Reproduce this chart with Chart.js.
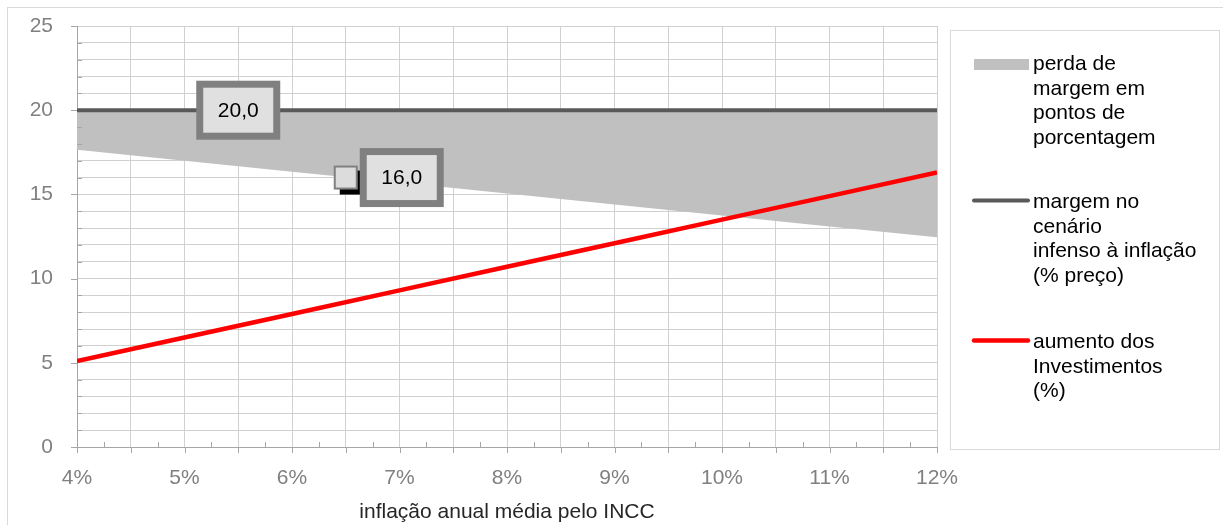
<!DOCTYPE html>
<html lang="pt-BR">
<head>
<meta charset="utf-8">
<script src="https://cdn.jsdelivr.net/npm/chart.js@4.4.1/dist/chart.umd.min.js"></script>
<style>
html,body{margin:0;padding:0;background:#fff;}
canvas{display:block;}
</style>
</head>
<body>
<canvas id="grafico" width="1223" height="525"></canvas>
<script>
// inflação anual média pelo INCC (%)
const inflacao = [4, 5, 6, 7, 8, 9, 10, 11, 12];
// margem no cenário infenso à inflação (% do preço)
const margemBase = [20, 20, 20, 20, 20, 20, 20, 20, 20];
// margem resultante com inflação; a faixa entre ela e a margem base é a perda
const margemComInflacao = [17.65, 17.0, 16.35, 15.7, 15.05, 14.4, 13.75, 13.1, 12.45];
// aumento dos investimentos (%)
const aumentoInvestimentos = [5.1, 6.5, 7.9, 9.3, 10.7, 12.1, 13.5, 14.9, 16.3];
// rótulos de valor
const rotuloX = [5.5, 6.5];
const rotuloY = [20.0, 16.0];
// marcas dos eixos
const ticksX = [4, 5, 6, 7, 8, 9, 10, 11, 12];
const ticksY = [0, 5, 10, 15, 20, 25];
// textos da legenda
const legendaPerda = ['perda de', 'margem em', 'pontos de', 'porcentagem'];
const legendaMargem = ['margem no', 'cenário', 'infenso à inflação', '(% preço)'];
const legendaInvest = ['aumento dos', 'Investimentos', '(%)'];
const tituloX = 'inflação anual média pelo INCC';

const FONTE = "'Liberation Sans', Arial, sans-serif";
const COR_EIXO = '#a6a6a6';
const COR_GRADE = '#d0d0d0';
const COR_FAIXA = '#c0c0c0';
const COR_MARGEM = '#595959';
const COR_INVEST = '#ff0000';

Chart.defaults.font.family = FONTE;

const pares = (ys) => inflacao.map((x, i) => ({ x, y: ys[i] }));
const fmt = (v) => v.toFixed(1).replace('.', ',');

// moldura externa, marcas dos eixos, rótulos e legenda
const extras = {
  id: 'extras',
  beforeDraw(chart) {
    const ctx = chart.ctx;
    ctx.save();
    ctx.strokeStyle = '#d9d9d9';
    ctx.lineWidth = 1;
    ctx.strokeRect(7.5, 7.5, 1400, 800);
    ctx.restore();
  },
  afterDatasetsDraw(chart) {
    const ctx = chart.ctx;
    const sx = chart.scales.x, sy = chart.scales.y;
    const a = chart.chartArea;
    ctx.save();
    ctx.strokeStyle = COR_EIXO;
    ctx.lineWidth = 1;
    ctx.beginPath();
    // eixo Y: principais para fora, secundárias para dentro
    for (let v = 0; v <= 25; v++) {
      const y = Math.round(sy.getPixelForValue(v)) + 0.5;
      if (v % 5 === 0) { ctx.moveTo(a.left - 6, y); ctx.lineTo(a.left, y); }
      else { ctx.moveTo(a.left, y); ctx.lineTo(a.left + 5, y); }
    }
    // eixo X
    for (let v = 4; v <= 12.001; v += 0.25) {
      const x = Math.round(sx.getPixelForValue(v)) + 0.5;
      if (Math.abs(v * 2 - Math.round(v * 2)) < 1e-6) { ctx.moveTo(x, a.bottom); ctx.lineTo(x, a.bottom + 6); }
      else { ctx.moveTo(x, a.bottom - 5); ctx.lineTo(x, a.bottom); }
    }
    ctx.stroke();

    // marcador do ponto 16,0
    const mx = sx.getPixelForValue(rotuloX[1]);
    const my = sy.getPixelForValue(rotuloY[1]);
    ctx.fillStyle = '#000';
    ctx.fillRect(mx - 12 + 6, my - 12 + 5, 24, 24);
    ctx.fillStyle = '#808080';
    ctx.fillRect(mx - 12, my - 12, 24, 24);
    ctx.fillStyle = '#dcdcdc';
    ctx.fillRect(mx - 10, my - 10, 20, 20);

    // caixas de rótulo
    const caixa = (cx, cy, texto) => {
      const w = 84, h = 59, b = 7;
      ctx.fillStyle = '#808080';
      ctx.fillRect(cx - w / 2, cy - h / 2, w, h);
      ctx.fillStyle = '#e0e0e0';
      ctx.fillRect(cx - w / 2 + b, cy - h / 2 + b, w - 2 * b, h - 2 * b);
      ctx.fillStyle = '#000';
      ctx.font = '21px ' + FONTE;
      ctx.textAlign = 'center';
      ctx.textBaseline = 'middle';
      ctx.fillText(texto, cx, cy + 1);
    };
    caixa(sx.getPixelForValue(rotuloX[0]), sy.getPixelForValue(rotuloY[0]), fmt(rotuloY[0]));
    caixa(mx + 56, my, fmt(rotuloY[1]));

    // legenda
    const lx = 950, ly = 30;
    ctx.strokeStyle = '#d9d9d9';
    ctx.strokeRect(lx + 0.5, ly + 0.5, 269, 419);
    ctx.font = '21px ' + FONTE;
    ctx.fillStyle = '#000';
    ctx.textAlign = 'left';
    ctx.textBaseline = 'alphabetic';
    const passo = 24.6;
    const tx = lx + 83;
    const item = (linhas, base) => linhas.forEach((t, i) => ctx.fillText(t, tx, base + i * passo));

    ctx.fillStyle = COR_FAIXA;
    ctx.fillRect(lx + 24, 59, 55, 11);
    ctx.fillStyle = '#000';
    item(legendaPerda, 70);

    ctx.lineCap = 'round';
    ctx.lineWidth = 4;
    ctx.strokeStyle = COR_MARGEM;
    ctx.beginPath(); ctx.moveTo(lx + 24, 200.5); ctx.lineTo(lx + 78, 200.5); ctx.stroke();
    item(legendaMargem, 208);

    ctx.lineWidth = 4.5;
    ctx.strokeStyle = COR_INVEST;
    ctx.beginPath(); ctx.moveTo(lx + 24, 340.5); ctx.lineTo(lx + 78, 340.5); ctx.stroke();
    item(legendaInvest, 348);
    ctx.restore();
  }
};

new Chart(document.getElementById('grafico'), {
  type: 'line',
  data: {
    datasets: [
      {
        label: legendaInvest.join(' '),
        data: pares(aumentoInvestimentos),
        borderColor: COR_INVEST,
        borderWidth: 4.5,
        pointRadius: 0,
        fill: false,
        order: 0
      },
      {
        label: legendaMargem.join(' '),
        data: pares(margemBase),
        borderColor: COR_MARGEM,
        borderWidth: 4,
        pointRadius: 0,
        fill: false,
        order: 1
      },
      {
        label: legendaPerda.join(' '),
        data: pares(margemComInflacao),
        borderWidth: 0,
        borderColor: 'rgba(0,0,0,0)',
        backgroundColor: COR_FAIXA,
        pointRadius: 0,
        fill: { value: margemBase[0] },
        order: 2
      }
    ]
  },
  options: {
    responsive: false,
    devicePixelRatio: 1,
    animation: false,
    layout: { padding: { left: 0, right: 286, top: 26, bottom: 0 } },
    plugins: { legend: { display: false }, tooltip: { enabled: false } },
    elements: { line: { tension: 0 } },
    scales: {
      x: {
        type: 'linear',
        min: 4, max: 12,
        afterFit: (s) => { s.height = 78; s.paddingLeft = 0; s.paddingRight = 0; },
        border: { color: COR_EIXO },
        grid: { color: COR_GRADE, drawTicks: false },
        ticks: {
          stepSize: 0.5,
          autoSkip: false,
          maxRotation: 0,
          padding: 19,
          color: '#808080',
          font: { size: 21 },
          callback: (v) => ticksX.includes(v) ? v + '%' : ''
        },
        title: {
          display: true,
          text: tituloX,
          color: '#262626',
          font: { size: 21 },
          padding: { top: 0, bottom: 0 }
        }
      },
      y: {
        min: 0, max: 25,
        afterFit: (s) => { s.width = 77; s.paddingTop = 0; s.paddingBottom = 0; },
        border: { color: COR_EIXO },
        grid: { color: COR_GRADE, drawTicks: false },
        ticks: {
          stepSize: 1,
          autoSkip: false,
          padding: 24,
          color: '#808080',
          font: { size: 21 },
          callback: (v) => ticksY.includes(v) ? String(v) : ''
        }
      }
    }
  },
  plugins: [extras]
});
</script>
</body>
</html>
